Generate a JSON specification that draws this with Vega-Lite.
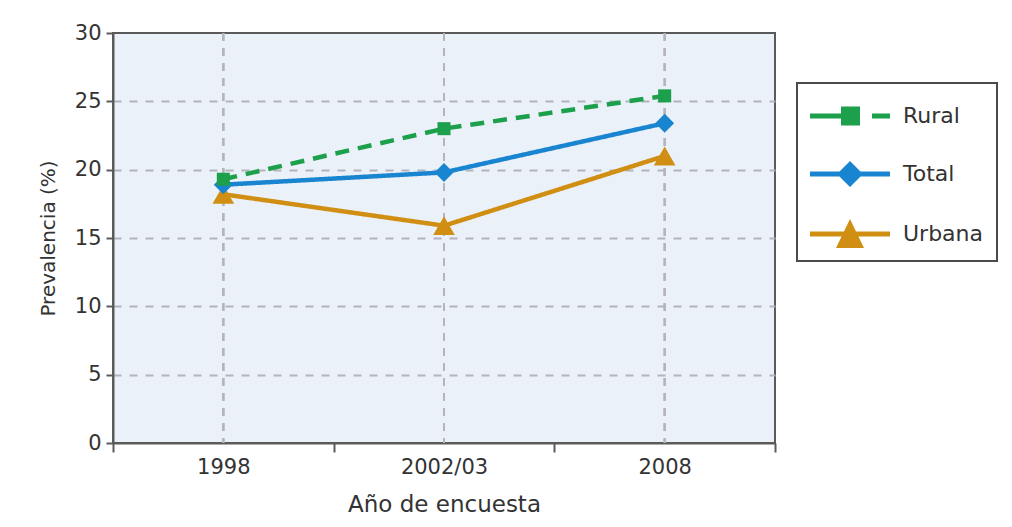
{
  "$schema": "https://vega.github.io/schema/vega-lite/v6.json",
  "width": 662,
  "height": 410,
  "autosize": {"type": "none"},
  "padding": {"left": 113, "top": 33, "right": 237, "bottom": 84},
  "background": "#ffffff",
  "config": {
    "font": "DejaVu Sans",
    "view": {"fill": "#ebf1f9", "stroke": "#5a5a5a", "strokeWidth": 2},
    "axis": {
      "labelFont": "DejaVu Sans",
      "titleFont": "DejaVu Sans",
      "labelFontSize": 21,
      "titleFontSize": 20,
      "labelColor": "#333333",
      "titleColor": "#333333",
      "titleFontWeight": "normal",
      "domainColor": "#5a5a5a",
      "domainWidth": 2,
      "tickColor": "#5a5a5a",
      "tickWidth": 2
    }
  },
  "data": {
    "values": [
      {"serie": "Rural", "anio": "1998", "valor": 19.3},
      {"serie": "Rural", "anio": "2002/03", "valor": 23.0},
      {"serie": "Rural", "anio": "2008", "valor": 25.4},
      {"serie": "Total", "anio": "1998", "valor": 18.9},
      {"serie": "Total", "anio": "2002/03", "valor": 19.8},
      {"serie": "Total", "anio": "2008", "valor": 23.4},
      {"serie": "Urbana", "anio": "1998", "valor": 18.2},
      {"serie": "Urbana", "anio": "2002/03", "valor": 15.9},
      {"serie": "Urbana", "anio": "2008", "valor": 21.0}
    ]
  },
  "layer": [
    {
      "mark": {"type": "rule", "color": "#b4b4bc", "strokeWidth": 2, "strokeDash": [8, 7]},
      "encoding": {
        "x": {
          "field": "anio",
          "type": "ordinal",
          "bandPosition": 0.5,
          "scale": {"type": "band", "paddingInner": 0, "paddingOuter": 0},
          "axis": {
            "title": "Año de encuesta",
            "titleFontSize": 23,
            "labelAngle": 0,
            "tickBand": "extent",
            "grid": false,
            "tickSize": 9,
            "labelPadding": 4,
            "titlePadding": 16
          }
        }
      }
    },
    {
      "mark": {"type": "line", "strokeWidth": 4.5},
      "encoding": {
        "x": {"field": "anio", "type": "ordinal", "bandPosition": 0.5},
        "y": {
          "field": "valor",
          "type": "quantitative",
          "scale": {"domain": [0, 30], "nice": false},
          "axis": {
            "title": "Prevalencia (%)",
            "values": [0, 5, 10, 15, 20, 25, 30],
            "tickSize": 7,
            "labelPadding": 5,
            "titlePadding": 16,
            "gridColor": "#b4b4bc",
            "gridWidth": 2,
            "gridDash": [8, 8],
            "gridOpacity": {"condition": {"test": "datum.value <= 0 || datum.value >= 30", "value": 0}, "value": 1}
          }
        },
        "color": {
          "field": "serie",
          "type": "nominal",
          "scale": {"domain": ["Rural", "Total", "Urbana"], "range": ["#1ca04b", "#1985d0", "#d08f12"]},
          "legend": {
            "title": null,
            "orient": "none",
            "legendX": 684,
            "legendY": 50,
            "padding": 13,
            "strokeColor": "#4a4a4a",
            "fillColor": "#ffffff",
            "symbolSize": 1600,
            "labelFont": "DejaVu Sans",
            "labelFontSize": 22,
            "labelColor": "#333333",
            "labelOffset": 53,
            "rowPadding": 27,
            "encode": {
              "legend": {"update": {"strokeWidth": {"value": 2}}},
              "symbols": {
                "update": {
                  "shape": {"signal": "datum.value === 'Rural' ? 'M-1,-0.125H0.55V0.125H-1Z M0.55,-0.475H1.5V0.475H0.55Z M2.1,-0.125H3V0.125H2.1Z' : datum.value === 'Total' ? 'M-1,-0.125H0.475L1,-0.65L1.525,-0.125H3V0.125H1.525L1,0.65L0.475,0.125H-1Z' : 'M-1,-0.125H0.698L1,-0.75L1.302,-0.125H3V0.125H1.422L1.7,0.7H0.3L0.578,0.125H-1Z'"},
                  "size": {"value": 1600},
                  "fill": {"scale": "color", "field": "value"},
                  "fillOpacity": {"value": 1},
                  "stroke": {"value": "transparent"},
                  "strokeWidth": {"value": 0}
                }
              }
            }
          }
        },
        "strokeDash": {
          "field": "serie",
          "type": "nominal",
          "scale": {"domain": ["Rural", "Total", "Urbana"], "range": [[14, 9], [1, 0], [1, 0]]},
          "legend": null
        }
      }
    },
    {
      "transform": [{"filter": "datum.serie === 'Urbana'"}],
      "mark": {"type": "point", "filled": true, "opacity": 1, "shape": "triangle-up", "size": 470},
      "encoding": {
        "x": {"field": "anio", "type": "ordinal", "bandPosition": 0.5},
        "y": {"field": "valor", "type": "quantitative"},
        "color": {"field": "serie", "type": "nominal", "legend": null}
      }
    },
    {
      "transform": [{"filter": "datum.serie === 'Total'"}],
      "mark": {"type": "point", "filled": true, "opacity": 1, "shape": "diamond", "size": 360},
      "encoding": {
        "x": {"field": "anio", "type": "ordinal", "bandPosition": 0.5},
        "y": {"field": "valor", "type": "quantitative"},
        "color": {"field": "serie", "type": "nominal", "legend": null}
      }
    },
    {
      "transform": [{"filter": "datum.serie === 'Rural'"}],
      "mark": {"type": "point", "filled": true, "opacity": 1, "shape": "square", "size": 170},
      "encoding": {
        "x": {"field": "anio", "type": "ordinal", "bandPosition": 0.5},
        "y": {"field": "valor", "type": "quantitative"},
        "color": {"field": "serie", "type": "nominal", "legend": null}
      }
    }
  ]
}
